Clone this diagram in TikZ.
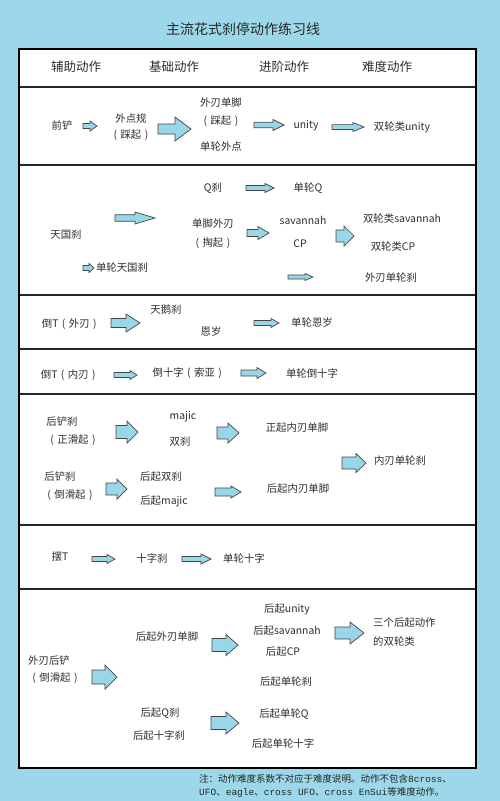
\documentclass[tikz,border=0pt]{standalone}
\usepackage{fontspec}
\setmainfont{Noto Sans CJK SC}
\newfontfamily\monofnt{Liberation Mono}
\definecolor{bgblue}{RGB}{157,216,234}
\definecolor{arrfill}{RGB}{152,214,232}
\definecolor{arrdraw}{RGB}{70,70,70}
\definecolor{txtcol}{RGB}{45,45,45}
\newcommand\lpar{\makebox[1em][c]{(}}
\newcommand\rpar{\makebox[1em][c]{)}}
\tikzset{
  txt/.style={inner sep=0pt, text=txtcol, font=\fontsize{10.4}{12}\selectfont},
  head/.style={inner sep=0pt, text=txtcol, font=\fontsize{12.5}{14}\selectfont},
  ttl/.style={inner sep=0pt, text=black!85, font=\fontsize{14}{16}\selectfont},
  notetxt/.style={inner sep=0pt, anchor=west, text=black!85, font=\fontsize{9.5}{11}\selectfont},
  blockarrow/.style={fill=arrfill, draw=arrdraw, line width=0.7pt, line join=miter},
  frame/.style={draw=black, line width=1.8pt},
  rowline/.style={draw=black!85, line width=1.6pt}
}
% x1, x2, y, body half, head half, head length
\newcommand\barrow[6]{%
  \draw[blockarrow] ({#1},{#3-#4}) -- ({#2-#6},{#3-#4}) -- ({#2-#6},{#3-#5}) -- ({#2},{#3})
    -- ({#2-#6},{#3+#5}) -- ({#2-#6},{#3+#4}) -- ({#1},{#3+#4}) -- cycle;}
\begin{document}
\begin{tikzpicture}[x=1pt,y=-1pt]
\fill[bgblue] (0,0) rectangle (500,801);
\useasboundingbox (0,0) rectangle (500,801);
\node[ttl] (title) at (243,29) {主流花式刹停动作练习线};
% table
\fill[white] (19,49) rectangle (476,768);
\foreach \yy in {87,165,295,349,394,525,589} \draw[rowline] (19,\yy) -- (476,\yy);
\draw[frame] (19,49) rectangle (476,768);
% header
\node[head] (h1) at (76,67) {辅助动作};
\node[head] (h2) at (174,67) {基础动作};
\node[head] (h3) at (284,67) {进阶动作};
\node[head] (h4) at (387,67) {难度动作};
% row 1
\node[txt] (r1a) at (62,126) {前铲};
\node[txt] (r1b) at (131,119) {外点规};
\node[txt] (r1b2) at (131,135) {\lpar 踩起\rpar};
\node[txt] (r1c) at (221,103) {外刃单脚};
\node[txt] (r1c2) at (221,121) {\lpar 踩起\rpar};
\node[txt] (r1c3) at (221,147) {单轮外点};
\node[txt] (r1d) at (306,126) {unity};
\node[txt] (r1e) at (402,127) {双轮类unity};
\barrow{83}{97}{126}{2.5}{5}{7}
\barrow{158}{191}{129}{5}{12}{16}
\barrow{254}{284}{125}{2.7}{5.5}{11}
\barrow{332}{364}{127}{2.4}{4.5}{11}
% row 2
\node[txt] (r2a) at (213,188) {Q刹};
\node[txt] (r2b) at (308,188) {单轮Q};
\node[txt] (r2c) at (66,235) {天国刹};
\node[txt] (r2d) at (213,224) {单脚外刃};
\node[txt] (r2d2) at (213,243) {\lpar 掏起\rpar};
\node[txt] (r2e) at (303,220) {savannah};
\node[txt] (r2f) at (300,244) {CP};
\node[txt] (r2g) at (402,219) {双轮类savannah};
\node[txt] (r2h) at (393,247) {双轮类CP};
\node[txt] (r2i) at (122,268) {单轮天国刹};
\node[txt] (r2j) at (391,278) {外刃单轮刹};
\barrow{246}{274}{188}{2.5}{4.5}{9}
\barrow{115}{155}{218}{3.3}{6}{20}
\barrow{247}{269}{233}{3.5}{6.5}{11}
\barrow{336}{354}{236}{6}{10}{10}
\barrow{83}{94}{268}{2.5}{4.5}{5}
\barrow{288}{313}{277}{2}{3.5}{8}
% row 3
\node[txt] (r3a) at (71,324) {倒T\lpar 外刃\rpar};
\node[txt] (r3b) at (166,310) {天鹅刹};
\node[txt] (r3c) at (211,332) {恩岁};
\node[txt] (r3d) at (312,323) {单轮恩岁};
\barrow{111}{140}{323}{4.5}{9}{14}
\barrow{254}{279}{323}{2.5}{4.5}{8}
% row 4
\node[txt] (r4a) at (70,375) {倒T\lpar 内刃\rpar};
\node[txt] (r4b) at (189,373) {倒十字\lpar 索亚\rpar};
\node[txt] (r4c) at (312,374) {单轮倒十字};
\barrow{114}{137}{375}{2.5}{4.5}{7}
\barrow{241}{266}{373}{3}{5.5}{9}
% row 5
\node[txt] (r5a) at (62,422) {后铲刹};
\node[txt] (r5a2) at (73,440) {\lpar 正滑起\rpar};
\node[txt] (r5b) at (183,417) {majic};
\node[txt] (r5c) at (180,442) {双刹};
\node[txt] (r5d) at (297,428) {正起内刃单脚};
\node[txt] (r5e) at (400,461) {内刃单轮刹};
\node[txt] (r5f) at (60,477) {后铲刹};
\node[txt] (r5f2) at (70,495) {\lpar 倒滑起\rpar};
\node[txt] (r5g) at (161,477) {后起双刹};
\node[txt] (r5h) at (164,501) {后起majic};
\node[txt] (r5i) at (298,489) {后起内刃单脚};
\barrow{116}{138}{432}{6.5}{11}{11}
\barrow{217}{239}{433}{6}{10}{11}
\barrow{342}{366}{463}{6}{9.5}{10}
\barrow{106}{127}{489}{6}{10}{10}
\barrow{215}{241}{492}{4}{6}{10}
% row 6
\node[txt] (r6a) at (60,557) {摆T};
\node[txt] (r6b) at (152,559) {十字刹};
\node[txt] (r6c) at (244,559) {单轮十字};
\barrow{92}{115}{559}{2.5}{4.5}{8}
\barrow{182}{211}{559}{2.5}{5}{10}
% row 7
\node[txt] (r7a) at (49,661) {外刃后铲};
\node[txt] (r7a2) at (55,678) {\lpar 倒滑起\rpar};
\node[txt] (r7b) at (167,637) {后起外刃单脚};
\node[txt] (r7c) at (287,609) {后起unity};
\node[txt] (r7d) at (287,631) {后起savannah};
\node[txt] (r7e) at (283,652) {后起CP};
\node[txt,anchor=west] (r7f) at (373,623) {三个后起动作};
\node[txt,anchor=west] (r7f2) at (373,642) {的双轮类};
\node[txt] (r7g) at (286,682) {后起单轮刹};
\node[txt] (r7h) at (160,713) {后起Q刹};
\node[txt] (r7i) at (159,736) {后起十字刹};
\node[txt] (r7j) at (284,714) {后起单轮Q};
\node[txt] (r7k) at (283,744) {后起单轮十字};
\barrow{92}{117}{677}{7}{12}{12}
\barrow{212}{238}{645}{6.5}{10.5}{12}
\barrow{335}{364}{633}{6}{11}{14}
\barrow{211}{239}{723}{6.5}{11}{13}
% note
\node[notetxt] (note1) at (199,779) {注：动作难度系数不对应于难度说明。动作不包含{\monofnt 8cross}、};
\node[notetxt] (note2) at (199,792) {{\monofnt UFO}、{\monofnt eagle}、{\monofnt cross UFO}、{\monofnt cross EnSui}等难度动作。};
\end{tikzpicture}
\end{document}
